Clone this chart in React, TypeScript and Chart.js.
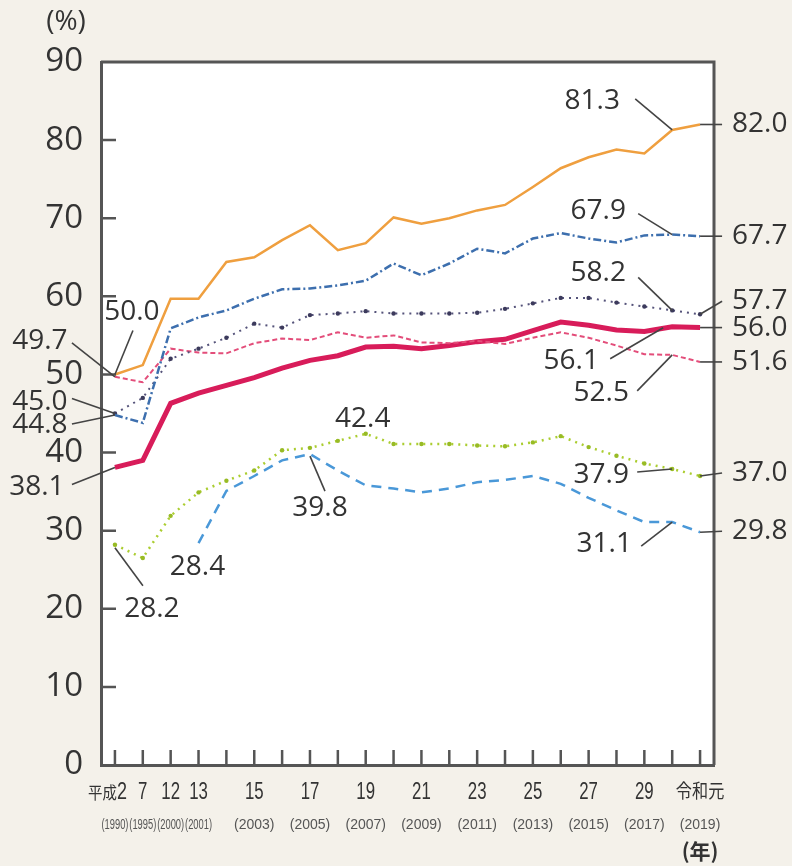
import { useEffect, useRef } from 'react';
import { Chart, registerables } from 'chart.js';

Chart.register(...registerables);

// ---------- data ----------
const categories = ['1990', '1995', '2000', '2001', '2002', '2003', '2004', '2005', '2006', '2007', '2008', '2009', '2010', '2011', '2012', '2013', '2014', '2015', '2016', '2017', '2018', '2019'];
const eraLabels = ['平成2', '7', '12', '13', '', '15', '', '17', '', '19', '', '21', '', '23', '', '25', '', '27', '', '29', '', '令和元'];
const yearLabels = ['(1990)', '(1995)', '(2000)', '(2001)', '', '(2003)', '', '(2005)', '', '(2007)', '', '(2009)', '', '(2011)', '', '(2013)', '', '(2015)', '', '(2017)', '', '(2019)'];
const yTicks = [0, 10, 20, 30, 40, 50, 60, 70, 80, 90];

const seriesOrange = [50.0, 51.2, 59.7, 59.7, 64.4, 65.0, 67.2, 69.1, 65.9, 66.8, 70.1, 69.3, 70.0, 71.0, 71.7, 74.0, 76.4, 77.8, 78.8, 78.3, 81.3, 82.0];
const seriesBlueDashDot = [44.8, 43.8, 55.9, 57.3, 58.2, 59.7, 60.9, 61.0, 61.4, 62.0, 64.2, 62.7, 64.2, 66.1, 65.5, 67.4, 68.1, 67.4, 66.9, 67.8, 67.9, 67.7];
const seriesPurple = [45.0, 47.0, 52.0, 53.3, 54.7, 56.5, 56.0, 57.6, 57.8, 58.1, 57.8, 57.8, 57.8, 57.9, 58.4, 59.1, 59.8, 59.8, 59.2, 58.7, 58.2, 57.7];
const seriesPink = [49.7, 49.0, 53.3, 52.8, 52.7, 54.0, 54.6, 54.4, 55.4, 54.7, 55.0, 54.1, 54.0, 54.3, 53.9, 54.7, 55.4, 54.7, 53.7, 52.6, 52.5, 51.6];
const seriesGreen = [28.2, 26.5, 31.9, 34.9, 36.4, 37.7, 40.3, 40.6, 41.5, 42.4, 41.1, 41.1, 41.1, 40.9, 40.8, 41.3, 42.1, 40.7, 39.6, 38.6, 37.9, 37.0];
const seriesLightBlue = [null, null, null, 28.4, 35.1, 37.0, 39.0, 39.8, 37.7, 35.8, 35.4, 34.9, 35.4, 36.2, 36.5, 37.0, 36.0, 34.2, 32.6, 31.1, 31.1, 29.8];
const seriesRed = [38.1, 39.0, 46.3, 47.6, 48.6, 49.6, 50.8, 51.8, 52.4, 53.5, 53.6, 53.3, 53.7, 54.2, 54.5, 55.6, 56.7, 56.3, 55.7, 55.5, 56.1, 56.0];

// ---------- styling / layout ----------
const BG = '#f4f1ea';
const AXIS = '#555555';
const TEXT = '#333333';

// callouts: dataset index, data index, text offset (tx,ty) relative to the point, alignment,
// leader line offsets [x1,y1,x2,y2] relative to the point
type Callout = { ds: number; i: number; tx: number; ty: number; align: CanvasTextAlign; line?: number[] };
const callouts: Callout[] = [
  // orange (0)
  { ds: 0, i: 20, tx: -80, ty: -29, align: 'center', line: [-37, -31, 0, 0] },
  { ds: 0, i: 21, tx: 32, ty: 0, align: 'left', line: [0, 0, 22, 0] },
  { ds: 0, i: 0, tx: 17, ty: -62, align: 'center', line: [18, -44, 0, 0] },
  // blue dash-dot (1)
  { ds: 1, i: 20, tx: -74, ty: -24, align: 'center', line: [-34, -21, 0, 0] },
  { ds: 1, i: 21, tx: 32, ty: 0, align: 'left', line: [0, 0, 22, 0] },
  { ds: 1, i: 0, tx: -75, ty: 10, align: 'center', line: [-43, 9, 0, 0] },
  // purple (2)
  { ds: 2, i: 20, tx: -74, ty: -37, align: 'center', line: [-34, -33, 0, 0] },
  { ds: 2, i: 21, tx: 32, ty: -13, align: 'left', line: [0, 0, 22, -13] },
  { ds: 2, i: 0, tx: -75, ty: -11, align: 'center', line: [-43, -15, 0, 0] },
  // pink (3)
  { ds: 3, i: 20, tx: -71, ty: 38, align: 'center', line: [-35, 36, 0, 0] },
  { ds: 3, i: 21, tx: 32, ty: 0, align: 'left', line: [0, 0, 22, 0] },
  { ds: 3, i: 0, tx: -75, ty: -36, align: 'center', line: [-43, -34, 0, 0] },
  // green (4)
  { ds: 4, i: 20, tx: -71, ty: 6, align: 'center', line: [-35, 3, 0, 0] },
  { ds: 4, i: 21, tx: 32, ty: -3, align: 'left', line: [0, 0, 22, -3] },
  { ds: 4, i: 0, tx: 37, ty: 64, align: 'center', line: [28, 41, 0, 3] },
  { ds: 4, i: 9, tx: -3, ty: -15, align: 'center' },
  // light blue dashed (5)
  { ds: 5, i: 20, tx: -68, ty: 22, align: 'center', line: [-31, 24, 0, 0] },
  { ds: 5, i: 21, tx: 32, ty: -1, align: 'left', line: [0, 0, 22, -1] },
  { ds: 5, i: 3, tx: -1, ty: 24, align: 'center' },
  { ds: 5, i: 7, tx: 10, ty: 54, align: 'center', line: [15, 37, 0, 2] },
  // red (6)
  { ds: 6, i: 20, tx: -101, ty: 34, align: 'center', line: [-62, 32, -9, 1] },
  { ds: 6, i: 21, tx: 32, ty: 0, align: 'left', line: [0, 0, 22, 0] },
  { ds: 6, i: 0, tx: -78, ty: 20, align: 'center', line: [-43, 17, 0, 0] },
];

const decoPlugin = {
  id: 'deco',
  beforeDraw(chart: any) {
    const { ctx, chartArea: a } = chart;
    ctx.save();
    ctx.fillStyle = BG;
    ctx.fillRect(0, 0, chart.width, chart.height);
    ctx.fillStyle = '#ffffff';
    ctx.fillRect(a.left, a.top, a.right - a.left, a.bottom - a.top);
    ctx.restore();
  },
  afterDraw(chart: any) {
    const { ctx, chartArea: a, scales } = chart;
    const x = scales.x;
    const y = scales.y;
    ctx.save();
    // frame (top + right)
    ctx.strokeStyle = AXIS;
    ctx.lineWidth = 3;
    ctx.beginPath();
    ctx.moveTo(a.left, a.top);
    ctx.lineTo(a.right, a.top);
    ctx.lineTo(a.right, a.bottom);
    ctx.stroke();
    // inward ticks
    ctx.lineWidth = 2.5;
    ctx.beginPath();
    yTicks.forEach((v) => {
      if (v === 0 || v === 90) return;
      const py = y.getPixelForValue(v);
      ctx.moveTo(a.left, py);
      ctx.lineTo(a.left + 15, py);
    });
    categories.forEach((_, i) => {
      const px = x.getPixelForValue(i);
      ctx.moveTo(px, a.bottom);
      ctx.lineTo(px, a.bottom - 15);
    });
    ctx.stroke();

    // x labels (two lines)
    ctx.fillStyle = TEXT;
    ctx.textBaseline = 'middle';
    eraLabels.forEach((lab, i) => {
      if (!lab) return;
      const px = x.getPixelForValue(i);
      const ly = a.bottom + 27;
      if (lab === '平成2') {
        ctx.font = '24px "Liberation Sans", sans-serif';
        ctx.textAlign = 'center';
        const w2 = ctx.measureText('2').width;
        ctx.fillText('2', px + 7, ly, w2 * 0.75);
        ctx.font = '17px "Noto Sans CJK JP", sans-serif';
        ctx.textAlign = 'right';
        const w = ctx.measureText('平成').width;
        ctx.fillText('平成', px + 2, ly + 1, w * 0.85);
      } else if (lab === '令和元') {
        ctx.font = '19px "Noto Sans CJK JP", sans-serif';
        ctx.textAlign = 'center';
        const w = ctx.measureText(lab).width;
        ctx.fillText(lab, px, ly - 1, w * 0.85);
      } else {
        ctx.font = '24px "Liberation Sans", sans-serif';
        ctx.textAlign = 'center';
        const w = ctx.measureText(lab).width;
        ctx.fillText(lab, px, ly, w * 0.7);
      }
    });
    ctx.font = '14px "Liberation Sans", sans-serif';
    ctx.fillStyle = '#555';
    ctx.textAlign = 'center';
    yearLabels.forEach((lab, i) => {
      if (!lab) return;
      const px = x.getPixelForValue(i);
      const crowded = (i > 0 && yearLabels[i - 1]) || (i < yearLabels.length - 1 && yearLabels[i + 1]);
      ctx.fillText(lab, px, a.bottom + 60, crowded ? 27 : 42);
    });
    // axis units
    ctx.fillStyle = TEXT;
    ctx.font = 'bold 21px "Noto Sans CJK JP", sans-serif';
    ctx.fillText('(年)', x.getPixelForValue(categories.length - 1), a.bottom + 86);
    ctx.font = '28px "Open Sans", sans-serif';
    ctx.fillText('(%)', 66, 22);

    // callouts
    ctx.font = '28px "Open Sans", sans-serif';
    ctx.strokeStyle = '#444';
    ctx.lineWidth = 1.6;
    callouts.forEach((c) => {
      const pt = chart.getDatasetMeta(c.ds).data[c.i];
      const val = chart.data.datasets[c.ds].data[c.i];
      if (!pt || val == null) return;
      const px = pt.x;
      const py = pt.y;
      if (c.line) {
        ctx.beginPath();
        ctx.moveTo(px + c.line[0], py + c.line[1]);
        ctx.lineTo(px + c.line[2], py + c.line[3]);
        ctx.stroke();
      }
      ctx.textAlign = c.align;
      ctx.fillText(Number(val).toFixed(1), px + c.tx, py + c.ty);
    });
    ctx.restore();
  },
};

export default function App() {
  const ref = useRef<HTMLCanvasElement>(null);
  useEffect(() => {
    document.body.style.margin = '0';
    document.body.style.background = BG;
    const canvas = ref.current;
    if (!canvas) return;
    const chart = new Chart(canvas, {
      type: 'line',
      data: {
        labels: categories,
        datasets: [
          { label: 'A', data: seriesOrange, borderColor: '#ef9f3f', borderWidth: 2.5, pointRadius: 0 },
          { label: 'B', data: seriesBlueDashDot, borderColor: '#3d6fae', borderWidth: 2.5, borderDash: [8, 3, 2, 3], pointRadius: 0 },
          { label: 'C', data: seriesPurple, borderColor: '#55537a', borderWidth: 2, borderDash: [2, 5], pointRadius: 2.2, pointBorderWidth: 0, pointBackgroundColor: '#3c3a5c' },
          { label: 'D', data: seriesPink, borderColor: '#e34d7a', borderWidth: 2, borderDash: [5, 3], pointRadius: 0 },
          { label: 'E', data: seriesGreen, borderColor: '#abcd30', borderWidth: 2.5, borderDash: [2, 5], pointRadius: 2.2, pointBorderWidth: 0, pointBackgroundColor: '#98bb25' },
          { label: 'F', data: seriesLightBlue, borderColor: '#4a98d8', borderWidth: 2.5, borderDash: [10, 7], pointRadius: 0 },
          { label: 'G', data: seriesRed, borderColor: '#d81c5a', borderWidth: 5, pointRadius: 0 },
        ] as any,
      },
      options: {
        animation: false,
        responsive: false,
        devicePixelRatio: 1,
        layout: { padding: { left: 0, right: 78, top: 62, bottom: 0 } },
        elements: { line: { tension: 0, fill: false } },
        plugins: { legend: { display: false }, tooltip: { enabled: false } },
        scales: {
          x: {
            type: 'category',
            offset: true,
            grid: { display: false, drawTicks: false },
            border: { display: true, color: AXIS, width: 3 },
            ticks: { display: false },
            afterFit: (s: any) => { s.height = 101; },
          },
          y: {
            min: 0,
            max: 90,
            grid: { display: false, drawTicks: false },
            border: { display: true, color: AXIS, width: 3 },
            ticks: {
              stepSize: 10,
              padding: 18,
              color: TEXT,
              font: { family: '"Open Sans", sans-serif', size: 33 },
            },
            afterFit: (s: any) => { s.width = 101; },
          },
        },
      },
      plugins: [decoPlugin],
    } as any);
    return () => chart.destroy();
  }, []);
  return <canvas ref={ref} width={792} height={866} style={{ display: 'block' }} />;
}
